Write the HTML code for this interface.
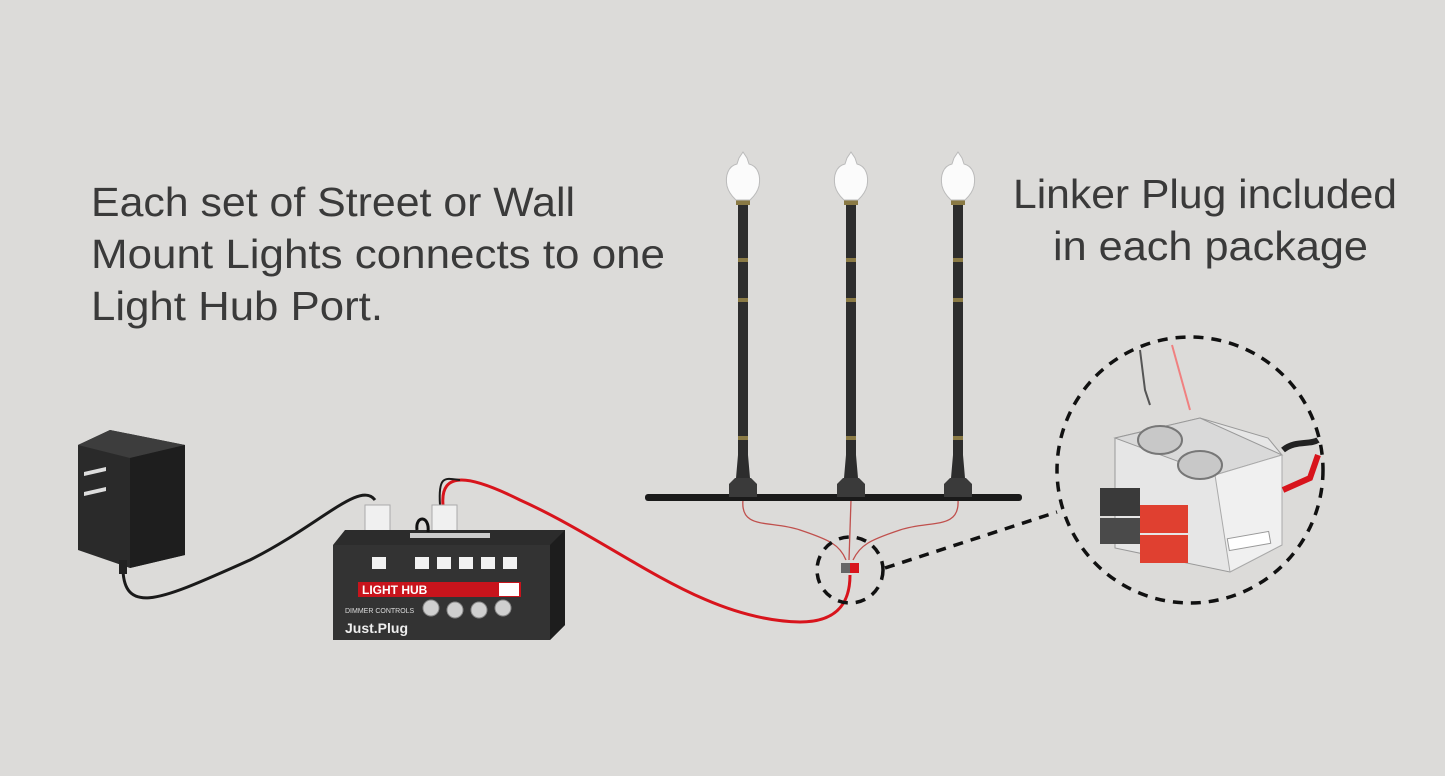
<!DOCTYPE html>
<html><head><style>
html,body{margin:0;padding:0;background:#dcdbd9;}
svg{display:block;}
text{font-family:"Liberation Sans",sans-serif;}
</style></head><body>
<svg width="1445" height="776" viewBox="0 0 1445 776" xmlns="http://www.w3.org/2000/svg">
<rect width="1445" height="776" fill="#dcdbd9"/>
<g fill="#3a3a3a" font-size="41">
<text x="91" y="216" textLength="484" lengthAdjust="spacingAndGlyphs">Each set of Street or Wall</text>
<text x="91" y="268" textLength="574" lengthAdjust="spacingAndGlyphs">Mount Lights connects to one</text>
<text x="91" y="320" textLength="292" lengthAdjust="spacingAndGlyphs">Light Hub Port.</text>
<text x="1013" y="208" textLength="384" lengthAdjust="spacingAndGlyphs">Linker Plug included</text>
<text x="1053" y="260" textLength="315" lengthAdjust="spacingAndGlyphs">in each package</text>
</g>
<!-- wires -->
<path d="M123 560 C120 620 160 600 250 560 C320 525 360 480 375 500" stroke="#1a1a1a" stroke-width="3" fill="none"/>
<path d="M443 505 C440 470 470 475 520 500 C620 545 700 620 800 622 C840 622 850 600 850 575" stroke="#d8141c" stroke-width="3" fill="none"/>
<path d="M440 505 C438 475 445 478 460 480" stroke="#1a1a1a" stroke-width="2" fill="none"/>
<g stroke="#c0504d" stroke-width="1.3" fill="none">
<path d="M743 500 C740 530 770 520 800 530 C830 540 840 545 846 560"/>
<path d="M851 500 L849 560"/>
<path d="M958 500 C960 530 930 520 900 530 C870 540 860 545 853 560"/>
</g>
<!-- adapter -->
<path d="M78 445 L110 430 L185 445 L185 555 L130 568 L78 550 Z" fill="#2a2a2a"/>
<path d="M78 445 L110 430 L185 445 L130 458 Z" fill="#3d3d3d"/>
<path d="M130 458 L185 445 L185 555 L130 568 Z" fill="#1e1e1e"/>
<path d="M84 472 L106 467 L106 471 L84 476 Z M84 492 L106 487 L106 491 L84 496 Z" fill="#ddd"/>
<rect x="119" y="560" width="8" height="14" fill="#222"/>
<!-- connectors -->
<rect x="365" y="505" width="25" height="28" fill="#f0f0f0" stroke="#aaa"/>
<rect x="432" y="505" width="25" height="28" fill="#f0f0f0" stroke="#aaa"/>
<!-- hub -->
<path d="M333 545 L345 530 L565 530 L565 625 L550 640 L333 640 Z" fill="#2c2c2c"/>
<rect x="333" y="545" width="217" height="95" fill="#333"/>
<path d="M550 545 L565 530 L565 625 L550 640 Z" fill="#1d1d1d"/>
<path d="M417 530 C415 515 430 515 428 532" stroke="#111" stroke-width="3" fill="none"/>
<g fill="#f2f2f2">
<rect x="372" y="557" width="14" height="12"/><rect x="415" y="557" width="14" height="12"/>
<rect x="437" y="557" width="14" height="12"/><rect x="459" y="557" width="14" height="12"/>
<rect x="481" y="557" width="14" height="12"/><rect x="503" y="557" width="14" height="12"/>
<rect x="410" y="533" width="80" height="5" fill="#ccc"/>
</g>
<rect x="358" y="582" width="163" height="15" fill="#c8141c"/>
<text x="362" y="594" font-size="12" font-weight="bold" fill="#fff">LIGHT HUB</text>
<rect x="499" y="583" width="20" height="13" fill="#fff"/>
<text x="345" y="613" font-size="7" fill="#ddd">DIMMER CONTROLS</text>
<text x="345" y="633" font-size="14" font-weight="bold" fill="#eee">Just.Plug</text>
<g fill="#cfcfcf" stroke="#888">
<circle cx="431" cy="608" r="8"/><circle cx="455" cy="610" r="8"/><circle cx="479" cy="610" r="8"/><circle cx="503" cy="608" r="8"/>
</g>
<!-- lamps -->
<rect x="645" y="494" width="377" height="7" rx="3" fill="#1a1a1a"/>
<g id="lamp">
<path d="M729 497 L729 484 L735 478 L751 478 L757 484 L757 497 Z" fill="#3a3a3a"/>
<path d="M736 478 L738 455 L738 205 L748 205 L748 455 L750 478 Z" fill="#2d2d2d"/>
<g fill="#8a7a45"><rect x="738" y="258" width="10" height="4"/><rect x="738" y="298" width="10" height="4"/><rect x="738" y="436" width="10" height="4"/><rect x="736" y="200" width="14" height="5"/></g>
<path d="M743 152 L747 158 L749 164 C758 166 761 176 759 186 C757 194 752 198 750 200 L736 200 C734 198 729 194 727 186 C725 176 728 166 737 164 L739 158 Z" fill="#fbfbfb" stroke="#bbb"/>
</g>
<use href="#lamp" x="108"/>
<use href="#lamp" x="215"/>
<!-- small plug -->
<rect x="841" y="563" width="9" height="10" fill="#666"/>
<rect x="850" y="563" width="9" height="10" fill="#d8141c"/>
<g stroke="#111" stroke-width="3.5" fill="none" stroke-dasharray="10 8">
<circle cx="850" cy="570" r="33"/>
<circle cx="1190" cy="470" r="133"/>
<path d="M885 568 L1057 512"/>
</g>
<!-- big linker plug -->
<path d="M1115 438 L1200 418 L1268 438 L1282 455 L1282 545 L1230 572 L1115 548 Z" fill="#e6e6e6" stroke="#999"/>
<path d="M1115 438 L1200 418 L1282 455 L1215 475 Z" fill="#d9d9d9" stroke="#999"/>
<path d="M1215 475 L1282 455 L1282 545 L1230 572 Z" fill="#f0f0f0" stroke="#aaa"/>
<ellipse cx="1160" cy="440" rx="22" ry="14" fill="#c8c8c8" stroke="#777" stroke-width="2"/>
<ellipse cx="1200" cy="465" rx="22" ry="14" fill="#c8c8c8" stroke="#777" stroke-width="2"/>
<path d="M1283 450 C1295 440 1310 445 1318 440" stroke="#222" stroke-width="6" fill="none"/>
<path d="M1283 490 L1310 478 L1318 455" stroke="#d8141c" stroke-width="6" fill="none"/>
<rect x="1100" y="488" width="40" height="28" fill="#3a3a3a"/>
<rect x="1100" y="518" width="40" height="26" fill="#4a4a4a"/>
<rect x="1140" y="505" width="48" height="28" fill="#e04030"/>
<rect x="1140" y="535" width="48" height="28" fill="#e04030"/>
<rect x="1228" y="535" width="42" height="12" fill="#fff" stroke="#999" transform="rotate(-10 1249 541)"/>
<path d="M1172 345 L1190 410" stroke="#f08080" stroke-width="2"/>
<path d="M1140 350 L1145 390 L1150 405" stroke="#555" stroke-width="2" fill="none"/>
</svg>
</body></html>
